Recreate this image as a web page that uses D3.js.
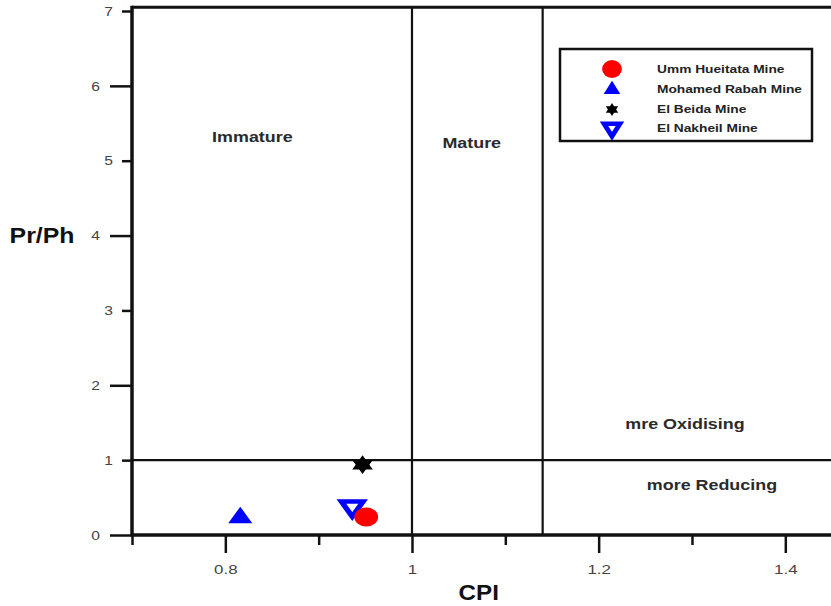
<!DOCTYPE html>
<html><head><meta charset="utf-8">
<script src="https://cdn.jsdelivr.net/npm/d3@7"></script>
<style>body{margin:0;background:#fff} svg{display:block;font-family:"Liberation Sans",Arial,sans-serif}</style>
</head><body><svg id="c" width="831" height="606"></svg>
<script>
// ---- data ----
const series = ["Umm Hueitata Mine", "Mohamed Rabah Mine", "El Beida Mine", "El Nakheil Mine"];
const cpiValues = [0.951, 0.816, 0.947, 0.936];
const prPhValues = [0.24, 0.23, 0.94, 0.38];
const xMajorTicks = [0.8, 1.0, 1.2, 1.4];
const xMinorTicks = [0.7, 0.9, 1.1, 1.3];
const xTickLabels = ["0.8", "1", "1.2", "1.4"];
const yMajorTicks = [0, 2, 4, 6];
const yMinorTicks = [1, 3, 5, 7];
const cpiDividers = [1.0, 1.14];
const prPhDividers = [1.0];
const regionLabels = ["Immature", "Mature", "mre Oxidising", "more Reducing"];
const xTitle = "CPI";
const yTitle = "Pr/Ph";

// ---- layout ----
const W = 831, H = 606;
const svg = d3.select("#c");
const x = d3.scaleLinear().domain([0.7, 1.45]).range([132, 132 + 0.75 * 933.3]);
const y = d3.scaleLinear().domain([0, 7]).range([535, 11]);
const yTop = y(7.05);
const SX = 1.25; // horizontal stretch of the original picture

function stretchText(sel, f) {
  sel.each(function () {
    const t = d3.select(this);
    const tx = +t.attr("x") || 0;
    t.attr("x", 0).attr("transform", `translate(${tx},0) scale(${f},1)`);
  });
}

// dividers
svg.append("g").selectAll("line.v").data(cpiDividers).join("line")
  .attr("x1", d => x(d)).attr("x2", d => x(d)).attr("y1", yTop).attr("y2", y(0))
  .attr("stroke", "#111").attr("stroke-width", 2.2);
svg.append("g").selectAll("line.h").data(prPhDividers).join("line")
  .attr("x1", x(0.7)).attr("x2", W).attr("y1", d => y(d)).attr("y2", d => y(d))
  .attr("stroke", "#111").attr("stroke-width", 2.2);

// top border
svg.append("line").attr("x1", x(0.7)).attr("x2", W).attr("y1", yTop).attr("y2", yTop)
  .attr("stroke", "#111").attr("stroke-width", 3);

// axes
function styleAxis(g) {
  g.select(".domain").remove();
  g.selectAll(".tick line").attr("stroke", "#111").attr("stroke-width", 2.5);
  g.selectAll(".tick text").attr("fill", "#444").attr("font-size", 13)
    .attr("font-family", "'Liberation Sans',Arial,sans-serif");
}
const gxMaj = svg.append("g").attr("transform", `translate(0,${y(0)})`)
  .call(d3.axisBottom(x).tickValues(xMajorTicks).tickSize(18).tickPadding(12)
    .tickFormat((d, i) => xTickLabels[i]))
  .call(styleAxis);
gxMaj.selectAll(".tick text").call(stretchText, 1.3);
svg.append("g").attr("transform", `translate(0,${y(0)})`)
  .call(d3.axisBottom(x).tickValues(xMinorTicks).tickSize(10).tickFormat(""))
  .call(styleAxis);

const gyMaj = svg.append("g").attr("transform", `translate(${x(0.7)},0)`)
  .call(d3.axisLeft(y).tickValues(yMajorTicks).tickSize(22).tickPadding(10).tickFormat(d3.format("d")))
  .call(styleAxis);
gyMaj.selectAll(".tick text").call(stretchText, 1.2);
const gyMin = svg.append("g").attr("transform", `translate(${x(0.7)},0)`)
  .call(d3.axisLeft(y).tickValues(yMinorTicks).tickSize(10).tickPadding(9).tickFormat(d3.format("d")))
  .call(styleAxis);
gyMin.selectAll(".tick text").call(stretchText, 1.2);

// axis lines
svg.append("line").attr("x1", x(0.7)).attr("x2", x(0.7)).attr("y1", yTop - 1.5).attr("y2", y(0) + 1.5)
  .attr("stroke", "#111").attr("stroke-width", 3.5);
svg.append("line").attr("x1", x(0.7)).attr("x2", W).attr("y1", y(0)).attr("y2", y(0))
  .attr("stroke", "#111").attr("stroke-width", 3.5);

// titles
svg.append("text").attr("transform", `translate(${x(1.0715)},600) scale(1.1,1)`)
  .attr("text-anchor", "middle").attr("font-size", 22).attr("font-weight", "bold")
  .attr("fill", "#111").text(xTitle);
svg.append("text").attr("transform", `translate(42,243) scale(1.13,1)`)
  .attr("text-anchor", "middle").attr("font-size", 22).attr("font-weight", "bold")
  .attr("fill", "#111").text(yTitle);

// region labels (positioned in data space)
const regionPos = [[0.829, 5.32], [1.064, 5.24], [1.2925, 1.48], [1.3214, 0.67]];
svg.append("g").selectAll("text").data(regionLabels).join("text")
  .attr("transform", (d, i) => `translate(${x(regionPos[i][0])},${y(regionPos[i][1])}) scale(1.28,1)`)
  .attr("text-anchor", "middle").attr("dy", "0.35em")
  .attr("font-size", 14).attr("font-weight", "bold").attr("fill", "#2a2a2a")
  .text(d => d);

// marker styles
const styles = [
  { type: "circle", fill: "#ff0000", stroke: "none", size: 283, lsize: 254, sw: 0, lsw: 0 },
  { type: "triangle", fill: "#0000ff", stroke: "none", size: 160, lsize: 100, sw: 0, lsw: 0 },
  { type: "hexagram", fill: "#000", stroke: "none", size: 117, lsize: 55, sw: 0, lsw: 0 },
  { type: "down", fill: "#fff", stroke: "#0000ff", size: 130, lsize: 90, sw: 4.5, lsw: 4.5 }
];
function drawMarker(g, st, size, sw) {
  if (st.type === "circle") {
    g.append("path").attr("d", d3.symbol(d3.symbolCircle, size)()).attr("fill", st.fill);
  } else if (st.type === "triangle") {
    g.append("path").attr("d", d3.symbol(d3.symbolTriangle, size)()).attr("fill", st.fill);
  } else if (st.type === "hexagram") {
    g.append("path").attr("d", d3.symbol(d3.symbolTriangle, size)()).attr("fill", st.fill);
    g.append("path").attr("d", d3.symbol(d3.symbolTriangle, size)()).attr("fill", st.fill)
      .attr("transform", "rotate(180)");
  } else {
    g.append("path").attr("d", d3.symbol(d3.symbolTriangle, size)()).attr("fill", st.fill)
      .attr("stroke", st.stroke).attr("stroke-width", sw).attr("stroke-linejoin", "miter")
      .attr("transform", "rotate(180)");
  }
}

// points (draw order: Nakheil, Mohamed, Umm, Beida)
const order = [3, 1, 0, 2];
order.forEach(i => {
  const g = svg.append("g")
    .attr("transform", `translate(${x(cpiValues[i])},${y(prPhValues[i])}) scale(${SX},1)`);
  drawMarker(g, styles[i], styles[i].size, styles[i].sw);
});

// legend
const lg = svg.append("g");
lg.append("rect").attr("x", 560).attr("y", 49).attr("width", 252).attr("height", 92)
  .attr("fill", "#fff").attr("stroke", "#111").attr("stroke-width", 2.5);
const rowY = [69, 89.5, 109.5, 128];
series.forEach((s, i) => {
  const g = lg.append("g").attr("transform", `translate(612,${rowY[i]}) scale(1.1,1)`);
  drawMarker(g, styles[i], styles[i].lsize, styles[i].lsw);
  lg.append("text").attr("transform", `translate(657,${rowY[i]}) scale(1.25,1)`)
    .attr("dy", "0.35em").attr("font-size", 11).attr("font-weight", "bold").attr("fill", "#222")
    .text(s);
});
</script>
</body></html>
